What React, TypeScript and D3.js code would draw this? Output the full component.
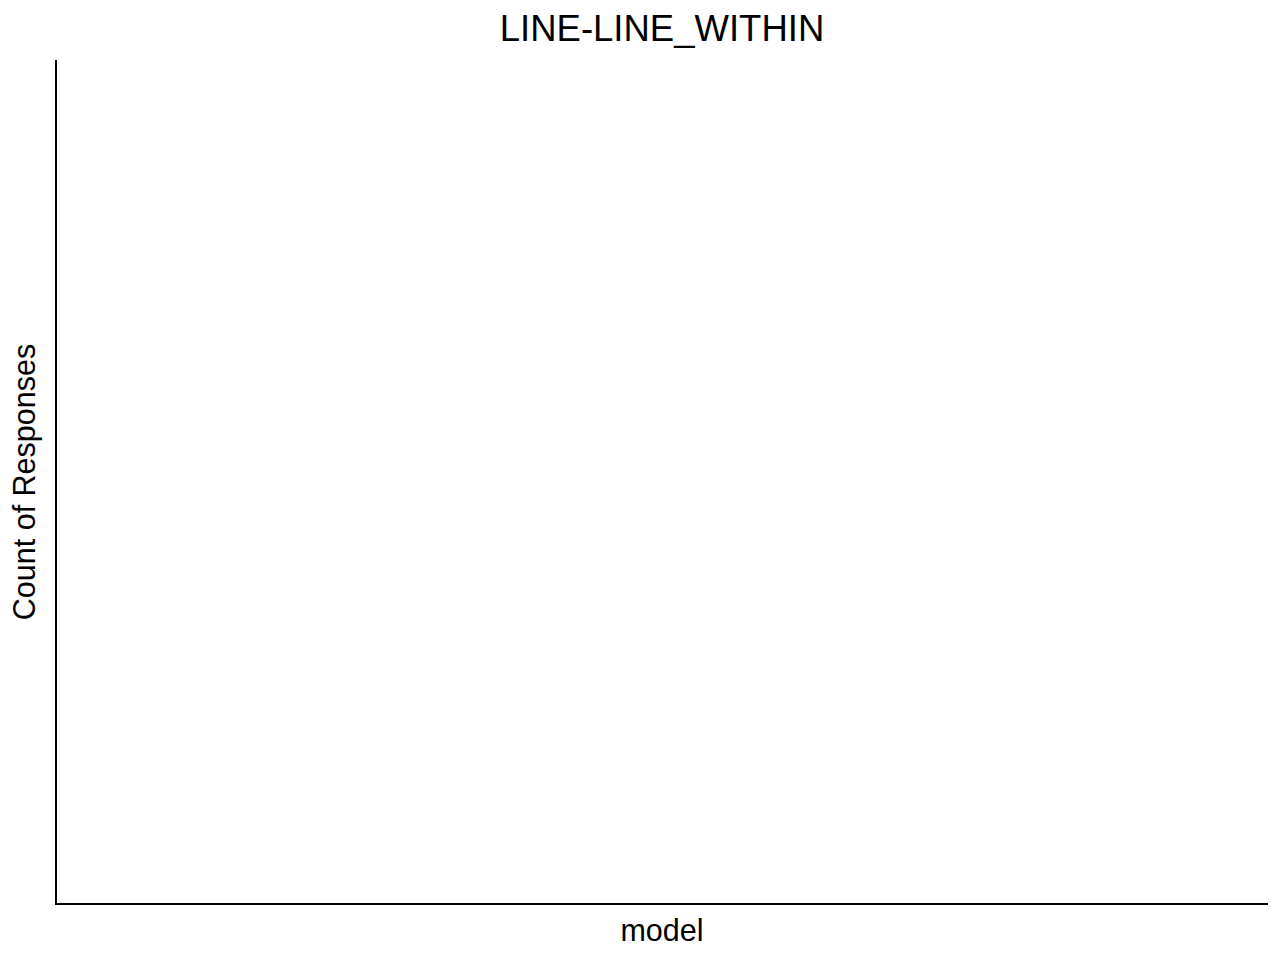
import * as d3 from 'd3';
import { useRef, useEffect } from 'react';

// empty panel: no categories or counts in the reference
const categories: string[] = [];
const counts: number[] = [];
const title = 'LINE-LINE_WITHIN';
const xLabel = 'model';
const yLabel = 'Count of Responses';

const width = 1280;
const height = 960;
const margin = { top: 60, right: 12, bottom: 56, left: 56 };

const App: React.FC = () => {
  const ref = useRef<SVGSVGElement>(null);

  useEffect(() => {
    if (!ref.current) return;
    const svg = d3.select(ref.current);
    svg.selectAll('*').remove();

    const x = d3.scaleBand<string>()
      .domain(categories)
      .range([margin.left, width - margin.right]);
    const y = d3.scaleLinear()
      .domain([0, d3.max(counts) ?? 1])
      .range([height - margin.bottom, margin.top]);

    const font = '"Liberation Sans", Arial, sans-serif';

    // axis lines only, no ticks
    svg.append('line')
      .attr('x1', margin.left).attr('x2', margin.left)
      .attr('y1', y.range()[1]).attr('y2', y.range()[0] + 1)
      .attr('stroke', 'black').attr('stroke-width', 2);
    svg.append('line')
      .attr('x1', margin.left - 1).attr('x2', x.range()[1])
      .attr('y1', y.range()[0]).attr('y2', y.range()[0])
      .attr('stroke', 'black').attr('stroke-width', 2);

    svg.selectAll('rect.bar')
      .data(categories)
      .join('rect')
      .attr('class', 'bar')
      .attr('x', d => x(d) ?? 0)
      .attr('width', x.bandwidth())
      .attr('y', (_, i) => y(counts[i]))
      .attr('height', (_, i) => y(0) - y(counts[i]))
      .attr('fill', '#595959');

    const cx = (margin.left + width - margin.right) / 2;
    const cy = (margin.top + height - margin.bottom) / 2;

    svg.append('text')
      .attr('x', cx).attr('y', 41)
      .attr('text-anchor', 'middle')
      .style('font-family', font).style('font-size', '36.5px')
      .text(title);

    svg.append('text')
      .attr('x', cx).attr('y', 941)
      .attr('text-anchor', 'middle')
      .style('font-family', font).style('font-size', '30.5px')
      .text(xLabel);

    svg.append('text')
      .attr('transform', `translate(35,${cy}) rotate(-90)`)
      .attr('text-anchor', 'middle')
      .style('font-family', font).style('font-size', '30.5px')
      .text(yLabel);
  }, []);

  return (
    <svg
      ref={ref}
      width={width}
      height={height}
      style={{ position: 'absolute', left: 0, top: 0, background: 'white' }}
    />
  );
};

export default App;
